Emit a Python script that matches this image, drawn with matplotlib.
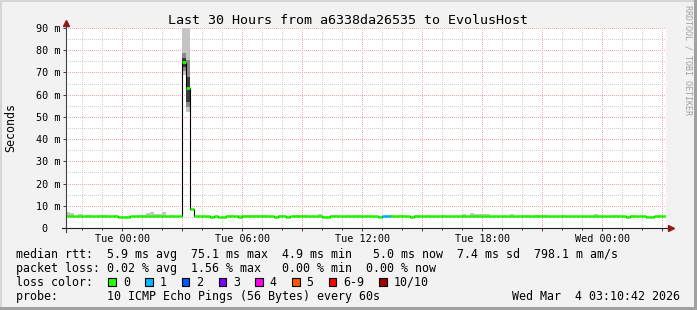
import numpy as np
import matplotlib
matplotlib.use("Agg")
import matplotlib.pyplot as plt
from matplotlib.patches import Rectangle

# =====================================================
# DATA (12 minute bins)
# =====================================================

title = "Last 30 Hours from a6338da26535 to EvolusHost"

# hours relative to Tue 00:00
bin_start = -2.8
bin_hours = 0.2

median_rtt = [
    5.3, 5.3, 5.3, 5.3, 5.3, 5.3, 5.3, 5.3, 5.3, 5.3,
    5.3, 5.3, 5.3, 4.8, 4.8, 4.8, 5.3, 5.3, 5.3, 5.3,
    5.3, 5.3, 5.3, 5.3, 5.3, 5.3, 5.3, 5.3, 5.3, 74.6,
    63.0, 8.5, 5.3, 5.3, 5.3, 5.3, 4.8, 5.3, 4.8, 4.8,
    5.3, 5.3, 5.3, 4.8, 5.3, 5.3, 5.3, 5.3, 5.3, 5.3,
    5.3, 5.3, 4.8, 5.3, 5.3, 4.8, 5.3, 5.3, 5.3, 5.3,
    5.3, 5.3, 5.3, 5.3, 4.8, 4.8, 5.3, 5.3, 5.3, 5.3,
    5.3, 5.3, 5.3, 5.3, 5.3, 5.3, 5.3, 5.3, 4.8, 5.3,
    5.3, 5.3, 5.3, 5.3, 5.3, 5.3, 4.8, 5.3, 5.3, 5.3,
    5.3, 5.3, 5.3, 5.3, 5.3, 5.3, 5.3, 5.3, 5.3, 5.3,
    5.3, 5.3, 5.3, 5.3, 5.3, 5.3, 5.3, 5.3, 5.3, 5.3,
    5.3, 5.3, 5.3, 5.3, 5.3, 5.3, 5.3, 5.3, 5.3, 5.3,
    5.3, 5.3, 5.3, 5.3, 5.3, 5.3, 5.3, 5.3, 5.3, 5.3,
    5.3, 5.3, 5.3, 5.3, 5.3, 5.3, 5.3, 5.3, 5.3, 5.3,
    4.8, 5.3, 5.3, 5.3, 5.3, 4.8, 4.8, 5.3, 5.3, 5.3,
]

smoke_top = [
    7.3, 6.6, 5.3, 6.3, 5.3, 6.0, 6.0, 5.3, 6.0, 6.0,
    6.0, 5.3, 6.0, 5.6, 5.6, 5.6, 5.3, 5.3, 6.0, 6.0,
    6.9, 7.3, 6.4, 6.4, 7.3, 5.3, 6.0, 5.3, 5.3, 95.0,
    95.0, 8.5, 5.3, 5.3, 5.3, 5.3, 5.6, 5.3, 4.8, 4.8,
    6.0, 6.0, 5.3, 5.8, 6.0, 6.0, 6.0, 6.0, 6.0, 6.0,
    6.0, 5.3, 5.6, 6.0, 6.0, 5.3, 5.3, 6.0, 6.0, 6.0,
    6.0, 5.3, 5.3, 6.4, 5.6, 5.6, 6.0, 6.0, 5.3, 5.3,
    6.0, 5.3, 6.0, 6.0, 5.3, 6.0, 5.3, 5.3, 5.3, 5.3,
    5.3, 6.0, 5.3, 6.0, 6.0, 5.3, 5.6, 6.0, 6.0, 5.3,
    6.0, 5.3, 5.3, 5.3, 6.0, 5.3, 5.3, 5.3, 5.3, 6.5,
    5.3, 6.9, 6.5, 6.5, 6.3, 6.3, 5.3, 5.3, 5.3, 5.3,
    5.3, 6.3, 5.3, 5.3, 6.0, 6.0, 5.3, 6.0, 6.0, 6.0,
    6.0, 5.3, 5.3, 5.3, 6.0, 5.3, 5.3, 5.3, 5.3, 5.3,
    5.3, 5.3, 6.4, 5.3, 5.3, 5.3, 5.3, 6.0, 5.3, 5.3,
    5.6, 6.0, 5.3, 5.3, 5.3, 5.6, 5.6, 5.3, 6.0, 5.3,
]

# lost pings out of 10 per bin (only bins 79 and 80 lost one)
loss_bins = [79, 80]
loss_counts = [1, 1]

# the spike has denser smoke
spike_bins = [29, 30]
spike_light_lo = [68.8, 52.3]
spike_mid_lo = [70.5, 54.6]
spike_mid_hi = [78.6, 75.6]
spike_dark_lo = [72.6, 56.9]
spike_dark_hi = [76.5, 68.0]

loss_labels = ["0", "1", "2", "3", "4", "5", "6-9", "10/10"]
loss_colors = ["#26ff00", "#00b8ff", "#0059ff", "#7e00ff",
               "#ff00ea", "#ff5500", "#ff0000", "#a10000"]

x_major = [0, 3, 6, 9, 12, 15, 18, 21, 24, 27]
x_labels = ["Tue 00:00", "", "Tue 06:00", "", "Tue 12:00", "",
            "Tue 18:00", "", "Wed 00:00", ""]
y_major = [0, 10, 20, 30, 40, 50, 60, 70, 80, 90]
y_labels = ["", "10 m", "20 m", "30 m", "40 m", "50 m",
            "60 m", "70 m", "80 m", "90 m"]

legend_rows = [
    "median rtt:  5.9 ms avg  75.1 ms max  4.9 ms min   5.0 ms now  7.4 ms sd  798.1 m am/s",
    "packet loss: 0.02 % avg  1.56 % max   0.00 % min  0.00 % now",
    "loss color:",
    "probe:       10 ICMP Echo Pings (56 Bytes) every 60s",
]
stamp = "Wed Mar  4 03:10:42 2026"

# =====================================================
# FIGURE
# =====================================================

plt.rcParams["font.family"] = ["DejaVu Sans Mono", "DejaVu Sans"]

W, H = 697, 310
fig = plt.figure(figsize=(W / 100, H / 100), dpi=100, facecolor="#f2f2f2")


def fx(x):
    return x / W


def fy(y):
    return 1 - y / H


ax = fig.add_axes([fx(66.3), fy(228), 600 / W, 200 / H])
ax.set_facecolor("white")
for s in ax.spines.values():
    s.set_visible(False)

n = len(median_rtt)
t = bin_start + bin_hours * np.arange(n)
edges = np.append(t, t[-1] + bin_hours)
med = np.array(median_rtt)
top = np.array(smoke_top)

loss = np.zeros(n, dtype=int)
loss[loss_bins] = loss_counts

# =====================================================
# SMOKE
# =====================================================

light_lo = med.copy()
light_lo[spike_bins] = spike_light_lo
ax.bar(t, top - light_lo, bottom=light_lo, width=bin_hours, align="edge",
       color="#c4c4c4", linewidth=0, zorder=2)
ax.bar(t[spike_bins], np.array(spike_mid_hi) - np.array(spike_mid_lo),
       bottom=spike_mid_lo, width=bin_hours, align="edge",
       color="#8a8a8a", linewidth=0, zorder=2)
ax.bar(t[spike_bins], np.array(spike_dark_hi) - np.array(spike_dark_lo),
       bottom=spike_dark_lo, width=bin_hours, align="edge",
       color="#3a3a3a", linewidth=0, zorder=2)

# =====================================================
# MEDIAN LINE
# =====================================================

ax.stairs(med, edges, baseline=None, color="black", lw=0.8, zorder=3)
ax.hlines(med, edges[:-1], edges[1:],
          colors=[loss_colors[v] for v in loss], lw=1.9,
          capstyle="butt", zorder=4)

# =====================================================
# AXES / GRID
# =====================================================

ax.set_xlim(bin_start, edges[-1])
ax.set_ylim(0, 90)

ax.set_xticks(x_major, x_labels)
ax.set_xticks(np.arange(-2, 28, 1), minor=True)
ax.set_yticks(y_major, y_labels)
ax.set_yticks(np.arange(5, 90, 10), minor=True)

ax.grid(which="major", color="#f5aaaa", lw=0.72, linestyle=(0, (1, 2)),
        antialiased=False)
ax.grid(which="minor", color="#d0d0d0", lw=0.72, linestyle=(0, (1, 2)),
        antialiased=False)
ax.set_axisbelow(True)

ax.tick_params(axis="both", which="both", direction="out", color="#404040",
               width=0.72, labelsize=7.25)
ax.tick_params(axis="x", which="major", length=2, pad=2.2)
ax.tick_params(axis="x", which="minor", length=1.5)
ax.tick_params(axis="y", which="major", length=2, pad=2.4)
ax.tick_params(axis="y", which="minor", length=0)

ax.annotate("0", xy=(0, 0), xycoords=ax.get_yaxis_transform(),
            xytext=(-18.5, 0), textcoords="offset pixels",
            ha="right", va="center_baseline", fontsize=7.25)

# axis lines with arrows
ax.plot([0, 0], [-0.02, 1.02], transform=ax.transAxes, color="#404040",
        lw=0.8, clip_on=False, zorder=5)
ax.plot([-0.007, 1.004], [0, 0], transform=ax.transAxes, color="#202020",
        lw=0.8, clip_on=False, zorder=5)
ax.plot([0], [1.025], transform=ax.transAxes, marker="^", ms=4.5,
        color="#8b1a1a", clip_on=False, zorder=6)
ax.plot([1.008], [0], transform=ax.transAxes, marker=">", ms=4.5,
        color="#8b1a1a", clip_on=False, zorder=6)

# =====================================================
# TEXT
# =====================================================

fig.text(fx(348), fy(24), title, ha="center", va="baseline", fontsize=9.6)
fig.text(fx(11), fy(128), "Seconds", rotation=90, ha="center", va="center",
         fontsize=8.35)
fig.text(fx(688), fy(60), "RRDTOOL / TOBI OETIKER", rotation=270,
         ha="center", va="center", fontsize=6, color="#a0a0a0")

baselines = [258, 272, 285.5, 300]
for row, yb in zip(legend_rows, baselines):
    fig.text(fx(16), fy(yb), row, ha="left", va="baseline", fontsize=8.35)
fig.text(fx(680), fy(300), stamp, ha="right", va="baseline", fontsize=8.35)

# loss colour boxes
cw = 6.98
cursor = 108.3
for lab, col in zip(loss_labels, loss_colors):
    fig.add_artist(Rectangle((fx(cursor), fy(285.5)), 7.7 / W, 8 / H,
                             transform=fig.transFigure, facecolor=col,
                             edgecolor="black", lw=0.8))
    fig.text(fx(cursor + 14.5), fy(285.5), lab, ha="left", va="baseline",
             fontsize=8.35)
    cursor = cursor + 14.5 + cw * (len(lab) + 2) + 1.3

# frame shading
fig.add_artist(Rectangle((0, fy(2)), 1, 2 / H, transform=fig.transFigure,
                         facecolor="#d6d6d6", lw=0))
fig.add_artist(Rectangle((0, 0), 2 / W, 1, transform=fig.transFigure,
                         facecolor="#d6d6d6", lw=0))
fig.add_artist(Rectangle((0, 0), 1, 3 / H, transform=fig.transFigure,
                         facecolor="#a0a0a0", lw=0))
fig.add_artist(Rectangle((fx(694), 0), 3 / W, 1, transform=fig.transFigure,
                         facecolor="#a0a0a0", lw=0))

fig.savefig("out.png", dpi=100, facecolor=fig.get_facecolor())
